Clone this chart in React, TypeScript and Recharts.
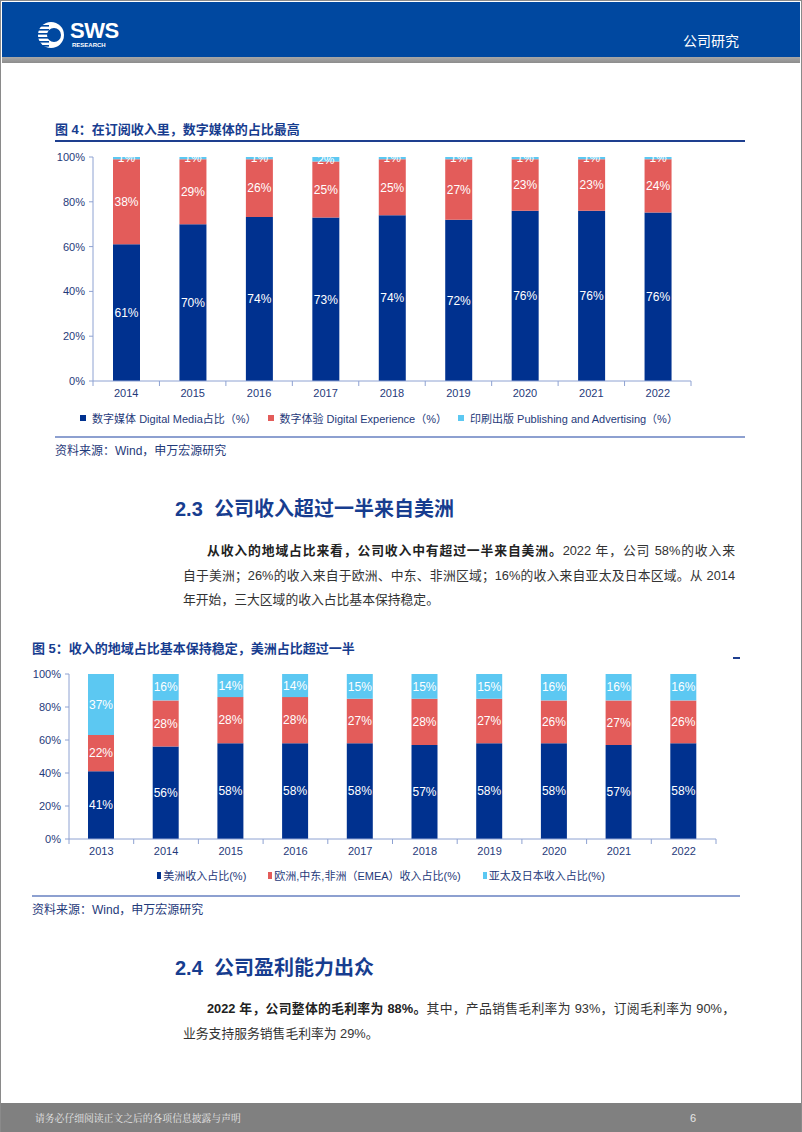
import React from 'react';
import { BarChart, Bar, XAxis, YAxis, Legend, LabelList } from 'recharts';

// ---------- Chart 1 data ----------
const years1 = ['2014', '2015', '2016', '2017', '2018', '2019', '2020', '2021', '2022'];
const digitalMedia = [61, 70, 74, 73, 74, 72, 76, 76, 76];
const digitalExperience = [38, 29, 26, 25, 25, 27, 23, 23, 24];
const publishing = [1, 1, 1, 2, 1, 1, 1, 1, 1];
const names1 = [
  '数字媒体 Digital Media占比（%）',
  '数字体验 Digital Experience（%）',
  '印刷出版 Publishing and Advertising（%）',
];

// ---------- Chart 2 data ----------
const years2 = ['2013', '2014', '2015', '2016', '2017', '2018', '2019', '2020', '2021', '2022'];
const americas = [41, 56, 58, 58, 58, 57, 58, 58, 57, 58];
const emea = [22, 28, 28, 28, 27, 28, 27, 26, 27, 26];
const apj = [37, 16, 14, 14, 15, 15, 15, 16, 16, 16];
const names2 = ['美洲收入占比(%)', '欧洲,中东,非洲（EMEA）收入占比(%)', '亚太及日本收入占比(%)'];

const yTicks = [0, 0.2, 0.4, 0.6, 0.8, 1];

const data1 = years1.map((y, i) => ({ year: y, a: digitalMedia[i], b: digitalExperience[i], c: publishing[i] }));
const data2 = years2.map((y, i) => ({ year: y, a: americas[i], b: emea[i], c: apj[i] }));

const FONT = '"Liberation Sans", Arial, "Noto Sans CJK SC", sans-serif';
const NAVY = '#1f3a7a';
const AXIS = '#8ea2d2';
const C_BLUE = '#00318f';
const C_RED = '#e35c5a';
const C_CYAN = '#5cc8f2';

const pct = (v: number) => `${Math.round(v * 100)}%`;
const lab = (v: any) => `${v}%`;

const BoundaryTick = (props: any) => {
  const { x, y, payload, index, visibleTicksCount, width } = props;
  let band = Number(width) / Number(visibleTicksCount);
  if (!isFinite(band) || band <= 0) band = (payload?.offset || 0) * 2;
  const half = band / 2;
  return (
    <g>
      <line x1={x - half} x2={x - half} y1={y} y2={y + 5} stroke={AXIS} strokeWidth={1} />
      {index === visibleTicksCount - 1 && (
        <line x1={x + half} x2={x + half} y1={y} y2={y + 5} stroke={AXIS} strokeWidth={1} />
      )}
      <text x={x} y={y + 16} textAnchor="middle" fill={NAVY} fontSize={11} fontFamily={FONT}>
        {payload.value}
      </text>
    </g>
  );
};

const makeLegend = (order: string[], opts: { mw: number; mh: number; gap: number; itemGap: number; fs: number }) => (props: any) => {
  const items = [...(props.payload || [])].sort(
    (p: any, q: any) => order.indexOf(String(p.value)) - order.indexOf(String(q.value)),
  );
  return (
    <div
      style={{
        display: 'flex',
        justifyContent: 'center',
        alignItems: 'center',
        height: 24,
        fontSize: opts.fs,
        color: NAVY,
        fontFamily: FONT,
        whiteSpace: 'nowrap',
      }}
    >
      {items.map((p: any, i: number) => (
        <span key={i} style={{ display: 'inline-flex', alignItems: 'center', marginLeft: i === 0 ? 0 : opts.itemGap }}>
          <span
            style={{ display: 'inline-block', width: opts.mw, height: opts.mh, background: p.color, marginRight: opts.gap }}
          />
          {p.value}
        </span>
      ))}
    </div>
  );
};

const Chart1 = () => (
  <BarChart
    width={700}
    height={290}
    data={data1}
    stackOffset="expand"
    margin={{ top: 17, right: 9, left: 0, bottom: 0 }}
  >
    <XAxis
      dataKey="year"
      height={25}
      tickSize={0}
      tickMargin={0}
      tickLine={false}
      axisLine={{ stroke: AXIS }}
      tick={<BoundaryTick />}
      interval={0}
    />
    <YAxis
      width={93}
      domain={[0, 1]}
      ticks={yTicks}
      tickFormatter={pct}
      tick={{ fill: NAVY, fontSize: 11, fontFamily: FONT }}
      tickSize={4}
      tickMargin={4}
      axisLine={{ stroke: AXIS }}
      tickLine={{ stroke: AXIS }}
    />
    <Legend
      verticalAlign="bottom"
      height={24}
      wrapperStyle={{ left: 93, width: 572 }}
      content={makeLegend(names1, { mw: 6, mh: 6, gap: 6, itemGap: 11, fs: 11 })}
    />
    <Bar dataKey="a" name={names1[0]} stackId="s" fill={C_BLUE} barSize={27} isAnimationActive={false}>
      <LabelList dataKey="a" position="center" formatter={lab} fill="#fff" fontSize={12} fontFamily={FONT} />
    </Bar>
    <Bar dataKey="b" name={names1[1]} stackId="s" fill={C_RED} barSize={27} isAnimationActive={false}>
      <LabelList dataKey="b" position="center" formatter={lab} fill="#fff" fontSize={12} fontFamily={FONT} />
    </Bar>
    <Bar dataKey="c" name={names1[2]} stackId="s" fill={C_CYAN} barSize={27} isAnimationActive={false}>
      <LabelList dataKey="c" position="center" formatter={lab} fill="#fff" fontSize={12} fontFamily={FONT} />
    </Bar>
  </BarChart>
);

const Chart2 = () => (
  <BarChart
    width={725}
    height={227}
    data={data2}
    stackOffset="expand"
    margin={{ top: 14, right: 9, left: 0, bottom: 0 }}
  >
    <XAxis
      dataKey="year"
      height={24}
      tickSize={0}
      tickMargin={0}
      tickLine={false}
      axisLine={{ stroke: AXIS }}
      tick={<BoundaryTick />}
      interval={0}
    />
    <YAxis
      width={69}
      domain={[0, 1]}
      ticks={yTicks}
      tickFormatter={pct}
      tick={{ fill: NAVY, fontSize: 11, fontFamily: FONT }}
      tickSize={4}
      tickMargin={4}
      axisLine={{ stroke: AXIS }}
      tickLine={{ stroke: AXIS }}
    />
    <Legend
      verticalAlign="bottom"
      height={24}
      wrapperStyle={{ left: 69, width: 624 }}
      content={makeLegend(names2, { mw: 4, mh: 7, gap: 2, itemGap: 22, fs: 11 })}
    />
    <Bar dataKey="a" name={names2[0]} stackId="s" fill={C_BLUE} barSize={26} isAnimationActive={false}>
      <LabelList dataKey="a" position="center" formatter={lab} fill="#fff" fontSize={12} fontFamily={FONT} />
    </Bar>
    <Bar dataKey="b" name={names2[1]} stackId="s" fill={C_RED} barSize={26} isAnimationActive={false}>
      <LabelList dataKey="b" position="center" formatter={lab} fill="#fff" fontSize={12} fontFamily={FONT} />
    </Bar>
    <Bar dataKey="c" name={names2[2]} stackId="s" fill={C_CYAN} barSize={26} isAnimationActive={false}>
      <LabelList dataKey="c" position="center" formatter={lab} fill="#fff" fontSize={12} fontFamily={FONT} />
    </Bar>
  </BarChart>
);

const abs = (left: number, top: number, extra: React.CSSProperties = {}): React.CSSProperties => ({
  position: 'absolute',
  left,
  top,
  ...extra,
});

const TEXT = '#333333';
const HEAD = '#173d8f';

const JLine = ({ left, top, width, children, justify = true }: any) => (
  <div
    style={abs(left, top, {
      width,
      fontSize: 12.8,
      lineHeight: '20px',
      color: TEXT,
      whiteSpace: 'nowrap',
      textAlign: justify ? 'justify' : 'left',
      textAlignLast: justify ? 'justify' : 'left',
      fontFamily: FONT,
    } as any)}
  >
    {children}
  </div>
);

export default function App() {
  return (
    <div
      style={{
        position: 'absolute',
        left: 0,
        top: 0,
        width: 802,
        height: 1132,
        overflow: 'hidden',
        background: '#fff',
        fontFamily: FONT,
      }}
    >
      {/* page border */}
      <div style={abs(0, 0, { width: 800, height: 1130, border: '1px solid #8a8a8a' })} />
      {/* header */}
      <div style={abs(2, 2, { width: 798, height: 55, background: '#0048a0' })} />
      <div style={abs(2, 57, { width: 798, height: 6, background: 'linear-gradient(#a8a8a8, #8c8c8c)' })} />
      <svg style={abs(36, 20)} width={30} height={30} viewBox="0 0 30 30">
        <circle cx={15} cy={15} r={13} fill="#fff" />
        <circle cx={18} cy={15} r={7} fill="#0048a0" />
        {[5, 9, 13, 17, 21, 25].map((yy) => (
          <rect key={yy} x={1} y={yy} width={12} height={1.6} fill="#0048a0" />
        ))}
      </svg>
      <div style={abs(70, 19, { color: '#fff', fontWeight: 700, fontSize: 22, lineHeight: '24px', fontFamily: FONT, letterSpacing: -0.5 })}>
        SWS
      </div>
      <div style={abs(72, 42, { color: '#fff', fontWeight: 700, fontSize: 6, lineHeight: '7px', fontFamily: FONT })}>RESEARCH</div>
      <div style={abs(683, 31, { color: '#fff', fontSize: 14, lineHeight: '18px', fontFamily: '"Noto Sans CJK SC", sans-serif' })}>
        公司研究
      </div>

      {/* Figure 4 */}
      <div style={abs(55, 121, { color: HEAD, fontSize: 13, fontWeight: 700, lineHeight: '18px', fontFamily: FONT })}>
        图 4：在订阅收入里，数字媒体的占比最高
      </div>
      <div style={abs(55, 140, { width: 690, height: 2, background: '#1e3f8f' })} />
      <div style={abs(0, 140)}>
        <Chart1 />
      </div>
      <div style={abs(55, 436, { width: 690, height: 2, background: '#8da0d0' })} />
      <div style={abs(55, 443, { color: NAVY, fontSize: 12, lineHeight: '16px', fontFamily: FONT })}>
        资料来源：Wind，申万宏源研究
      </div>

      {/* Section 2.3 */}
      <div style={abs(175, 497, { color: HEAD, fontSize: 20, fontWeight: 700, lineHeight: '24px', fontFamily: FONT, whiteSpace: 'pre' })}>
        {'2.3  公司收入超过一半来自美洲'}
      </div>
      <JLine left={207} top={541} width={528}>
        <b style={{ color: '#222' }}>从收入的地域占比来看，公司收入中有超过一半来自美洲。</b>2022 年，公司 58%的收入来
      </JLine>
      <JLine left={183} top={566} width={552}>
        自于美洲；26%的收入来自于欧洲、中东、非洲区域；16%的收入来自亚太及日本区域。从 2014
      </JLine>
      <JLine left={183} top={590} width={552} justify={false}>
        年开始，三大区域的收入占比基本保持稳定。
      </JLine>

      {/* Figure 5 */}
      <div style={abs(32, 640, { color: HEAD, fontSize: 13, fontWeight: 700, lineHeight: '18px', fontFamily: FONT })}>
        图 5：收入的地域占比基本保持稳定，美洲占比超过一半
      </div>
      <div style={abs(733, 657, { width: 7, height: 2, background: '#1e3f8f' })} />
      <div style={abs(0, 660)}>
        <Chart2 />
      </div>
      <div style={abs(32, 895, { width: 708, height: 2, background: '#8da0d0' })} />
      <div style={abs(32, 902, { color: NAVY, fontSize: 12, lineHeight: '16px', fontFamily: FONT })}>
        资料来源：Wind，申万宏源研究
      </div>

      {/* Section 2.4 */}
      <div style={abs(175, 956, { color: HEAD, fontSize: 20, fontWeight: 700, lineHeight: '24px', fontFamily: FONT, whiteSpace: 'pre' })}>
        {'2.4  公司盈利能力出众'}
      </div>
      <JLine left={207} top={999} width={528}>
        <b style={{ color: '#222' }}>2022 年，公司整体的毛利率为 88%。</b>其中，产品销售毛利率为 93%，订阅毛利率为 90%，
      </JLine>
      <JLine left={183} top={1024} width={552} justify={false}>
        业务支持服务销售毛利率为 29%。
      </JLine>

      {/* footer */}
      <div style={abs(1, 1103, { width: 800, height: 29, background: '#808080' })} />
      <div style={abs(35, 1111, { color: '#e6e6e6', fontSize: 9.8, lineHeight: '14px', fontFamily: '"Noto Serif CJK SC", "DejaVu Serif", serif' })}>
        请务必仔细阅读正文之后的各项信息披露与声明
      </div>
      <div style={abs(690, 1111, { color: '#e6e6e6', fontSize: 11, lineHeight: '14px', fontFamily: FONT })}>6</div>
    </div>
  );
}
